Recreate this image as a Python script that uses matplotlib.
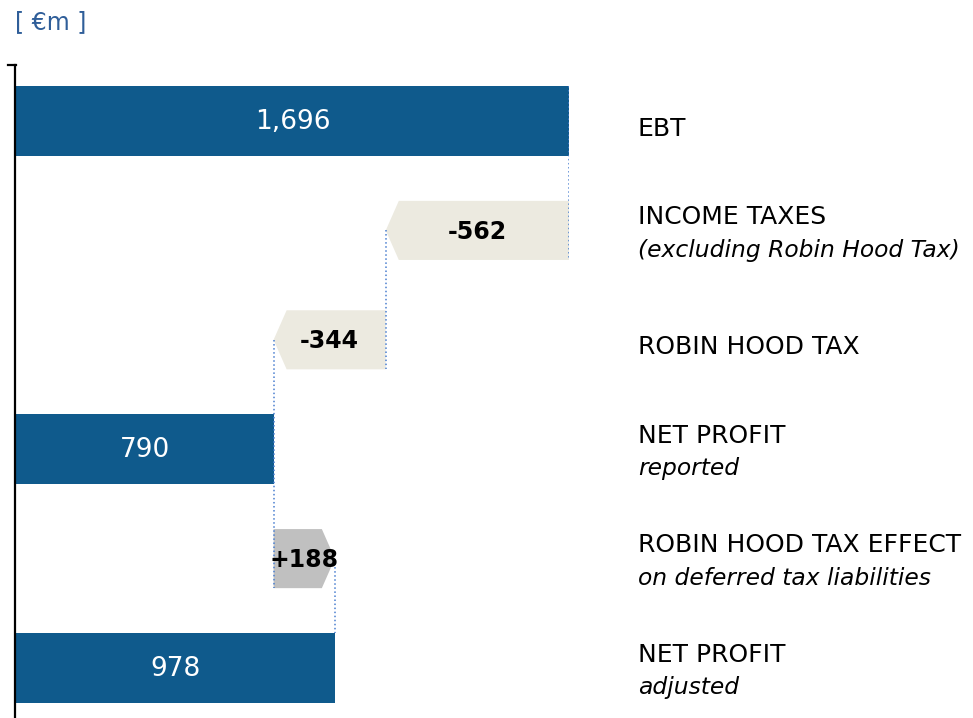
import matplotlib
matplotlib.use("Agg")
import matplotlib.pyplot as plt
from matplotlib.patches import Polygon
import matplotlib.transforms as mtransforms

# Data (EUR million)
steps = ["EBT", "INCOME TAXES", "ROBIN HOOD TAX", "NET PROFIT", "ROBIN HOOD TAX EFFECT", "NET PROFIT"]
subtitles = ["", "(excluding Robin Hood Tax)", "", "reported", "on deferred tax liabilities", "adjusted"]
values = [1696, -562, -344, 790, 188, 978]
kinds = ["total", "delta", "delta", "total", "delta", "total"]
value_labels = ["1,696", "-562", "-344", "790", "+188", "978"]

BLUE = "#0f5a8c"
NEG = "#ecEAE0"
POS = "#c0c0c0"
DOT = "#4a7fd0"

fig = plt.figure(figsize=(9.73, 7.18), dpi=100)
W, H = 973, 718
ax = fig.add_axes([16 / W, 0, (569 - 16) / W, (H - 65) / H])
ax.set_xlim(0, 1696)
ax.set_ylim(5.457, -0.512)

main_h = 0.64
delta_h = 0.54
tip = 40  # width of arrow point in data units

running = 0
for i, (val, kind, lab) in enumerate(zip(values, kinds, value_labels)):
    if kind == "total":
        running = val
        ax.barh(i, val, height=main_h, color=BLUE, left=0)
        ax.text(val / 2, i + 0.01, lab, ha="center", va="center", color="white", fontsize=19)
    else:
        start = running
        end = running + val
        hh = delta_h / 2
        if val < 0:
            pts = [(start, i - hh), (end + tip, i - hh), (end, i), (end + tip, i + hh), (start, i + hh)]
            col = NEG
        else:
            pts = [(start, i - hh), (end - tip, i - hh), (end, i), (end - tip, i + hh), (start, i + hh)]
            col = POS
        ax.add_patch(Polygon(pts, closed=True, facecolor=col, edgecolor="none"))
        ax.text((start + end) / 2, i + 0.01, lab, ha="center", va="center", color="black",
                fontsize=17, fontweight="bold")
        running = end

# dotted connectors
ax.plot([1696, 1696], [0 - main_h / 2, 1 + delta_h / 2], ls=":", color=DOT, lw=1.1)
ax.plot([1134, 1134], [1, 2 + delta_h / 2], ls=":", color=DOT, lw=1.1)
ax.plot([790, 790], [2, 4 + delta_h / 2], ls=":", color=DOT, lw=1.1)
ax.plot([978, 978], [4, 5 - main_h / 2], ls=":", color=DOT, lw=1.1)

# axis styling
for s in ["top", "right", "bottom"]:
    ax.spines[s].set_visible(False)
ax.spines["left"].set_linewidth(1.6)
ax.spines["left"].set_position(("outward", 1))
ax.set_xticks([])
ax.set_yticks([])
ax.plot([-25, 0], [-0.512, -0.512], color="black", lw=1.6, clip_on=False)

# right side labels
trans = mtransforms.blended_transform_factory(fig.transFigure, ax.transData)
xl = 638 / W
for i, (name, sub) in enumerate(zip(steps, subtitles)):
    if sub:
        ax.text(xl, i - 0.12, name, transform=trans, ha="left", va="center", fontsize=18)
        ax.text(xl, i + 0.18, sub, transform=trans, ha="left", va="center", fontsize=16.8,
                style="italic")
    else:
        ax.text(xl, i + 0.07, name, transform=trans, ha="left", va="center", fontsize=18)

fig.text(15 / W, 1 - 22 / H, "[ €m ]", color="#2f5e99", fontsize=17, ha="left", va="center")

fig.savefig("out.png", dpi=100)
